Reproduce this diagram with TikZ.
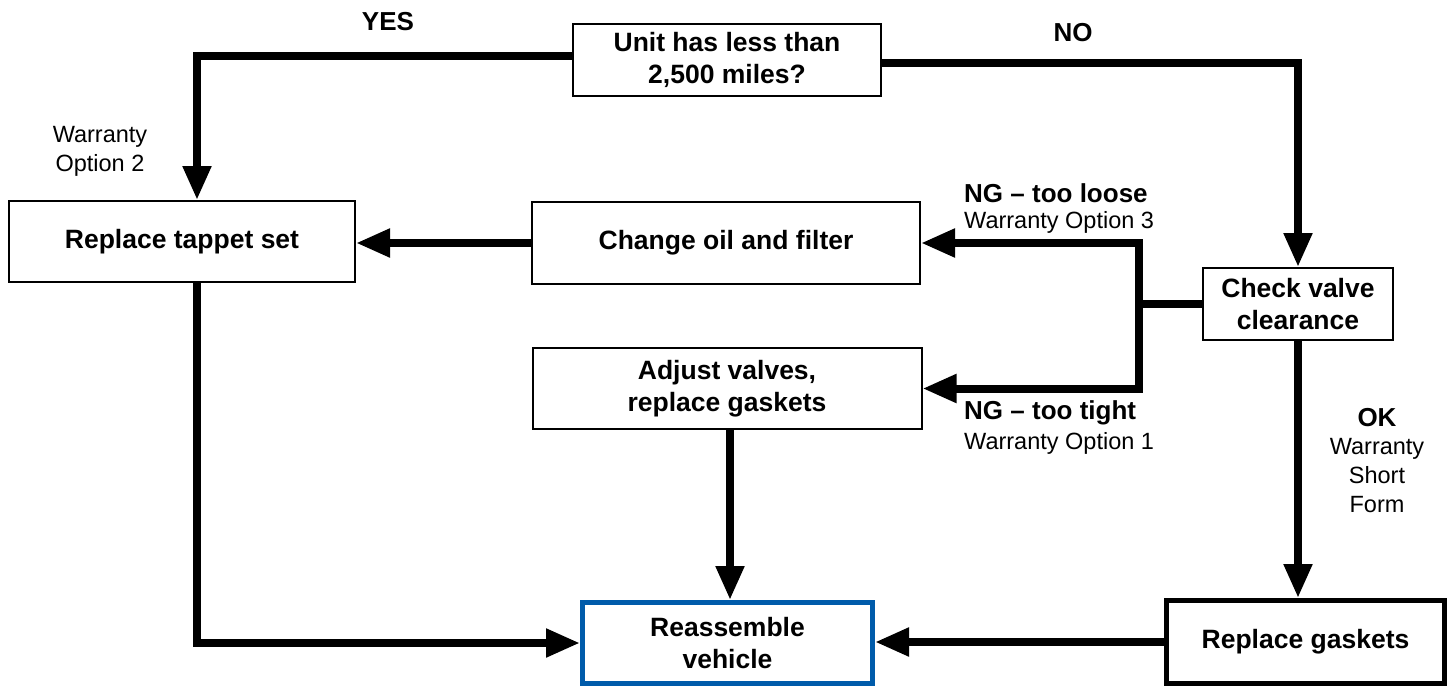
\documentclass[tikz,border=0pt]{standalone}
\usepackage{fontspec}
\setmainfont{Liberation Sans}
\usetikzlibrary{arrows.meta}
\definecolor{boxblue}{RGB}{0,91,170}
\begin{document}
\begin{tikzpicture}[x=1pt,y=-1pt,
 box/.style={draw=black, line width=2pt, fill=white, align=center, inner sep=0pt,
   font=\fontsize{26.5}{32}\selectfont\bfseries},
 conn/.style={line width=8pt, -{Triangle[length=34pt,width=27pt]}, line join=miter},
 plain/.style={line width=8pt},
 lbl/.style={font=\fontsize{23.5}{29}\selectfont, align=center, inner sep=0pt},
 blbl/.style={font=\fontsize{26}{29}\selectfont\bfseries, align=center, inner sep=0pt}]
\useasboundingbox (0,0) rectangle (1450,688);

% boxes
\node[box, minimum width=308pt, minimum height=72pt] (unit) at (727,60) {Unit has less than\\2,500 miles?};
\node[box, minimum width=346pt, minimum height=81pt] (tappet) at (182,241.5) {Replace tappet set};
\node[box, minimum width=388pt, minimum height=82pt] (oil) at (726,243) {Change oil and filter};
\node[box, minimum width=190pt, minimum height=72pt] (check) at (1298,304) {Check valve\\clearance};
\node[box, minimum width=389pt, minimum height=81pt] (adjust) at (727,388.5) {Adjust valves,\\replace gaskets};
\node[box, draw=boxblue, line width=5pt, minimum width=290pt, minimum height=81pt] (reass) at (727.5,643) {Reassemble\\vehicle};
\node[box, line width=5pt, minimum width=278pt, minimum height=83pt] (gaskets) at (1305.5,642) {Replace gaskets};

% helper coordinates
\coordinate (yc) at (197,56);
\coordinate (nc) at (1298,63);
\coordinate (j) at (1139,304);
\coordinate (ax) at (730,0);

% connectors
\draw[conn] (unit.west |- yc) -- (yc) -- (yc |- tappet.north);
\draw[conn] (unit.east |- nc) -- (nc) -- (check.north);
\draw[conn] (oil.west) -- (tappet.east |- oil.west);
\draw[plain] (check.west) -- (j);
\draw[conn] (j) -- (j |- oil.east) -- (oil.east);
\draw[conn] (j) -- (j |- adjust.east) -- (adjust.east);
\draw[conn] (adjust.south -| ax) -- (reass.north -| ax);
\draw[conn] (tappet.south -| yc) -- (yc |- reass.west) -- (reass.west);
\draw[conn] (check.south) -- (check.south |- gaskets.north);
\draw[conn] (gaskets.west) -- (reass.east |- gaskets.west);

% labels
\node[blbl] (yes) at (388,22) {YES};
\node[blbl] (no) at (1073,33) {NO};
\node[lbl] (w2) at (100,151) {Warranty\\Option 2};
\node[blbl, anchor=west] (loose) at (964,193) {NG – too loose};
\node[lbl, anchor=west] (w3) at (964,222) {Warranty Option 3};
\node[blbl, anchor=west] (tight) at (964,413) {NG – too tight};
\node[lbl, anchor=west] (w1) at (964,443) {Warranty Option 1};
\node[blbl] (ok) at (1377,418) {OK};
\node[lbl] (wsf) at (1377,476) {Warranty\\Short\\Form};
\end{tikzpicture}
\end{document}
